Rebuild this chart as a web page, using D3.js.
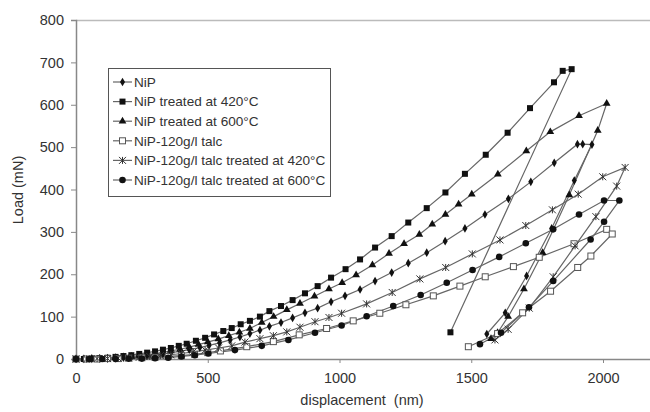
<!DOCTYPE html>
<html><head><meta charset="utf-8">
<script src="https://cdn.jsdelivr.net/npm/d3@7"></script>
<style>body{margin:0;background:#fff}svg{display:block}text{font-family:"Liberation Sans",Arial,sans-serif;fill:#333}</style>
</head><body><svg id="c" width="650" height="412"></svg>
<script>
const seriesNames = ["NiP","NiP treated at 420°C","NiP treated at 600°C","NiP-120g/l talc","NiP-120g/l talc treated at 420°C","NiP-120g/l talc treated at 600°C"];
const xTicks = [0,500,1000,1500,2000];
const yTicks = [0,100,200,300,400,500,600,700,800];

// NiP (diamonds)
const nipX = [0,30,60,90,120,150,180,210,240,270,300,330,360,395,430,470,505,545,585,622,660,698,734,778,822,869,917,968,1021,1078,1135,1198,1261,1331,1401,1476,1552,1641,1726,1815,1903,1923,1958,1891,1805,1710,1629,1559];
const nipY = [0,0,0,1,1,2,3,4,6,8,10,12,15,18,22,27,32,38,45,52,60,68,77,86,97,109,120,135,149,164,184,204,226,251,278,308,341,378,418,463,507,507,506,421,308,196,109,59];
// NiP 420°C (filled squares)
const n420X = [0,30,60,90,120,150,180,210,240,270,300,330,360,390,420,455,490,524,559,591,625,660,698,734,778,822,869,917,968,1023,1078,1135,1198,1261,1331,1402,1476,1555,1638,1723,1814,1847,1881,1421];
const n420Y = [0,0,1,2,3,5,7,9,12,15,18,22,26,31,36,43,50,58,66,73,82,90,100,113,125,139,155,172,192,212,235,263,290,322,356,393,437,482,534,592,653,680,684,63];
// NiP 600°C (triangles)
const n600X = [0,30,60,90,120,150,180,210,240,270,300,330,360,395,430,465,500,540,580,620,660,705,750,800,850,905,960,1010,1063,1125,1188,1245,1303,1352,1402,1452,1502,1601,1709,1800,1909,2014,1980,1872,1771,1700,1640,1600,1575];
const n600Y = [0,0,1,1,2,3,5,6,8,10,13,16,19,23,28,34,40,47,55,63,72,86,100,116,131,148,165,180,198,222,249,272,294,318,341,365,389,436,491,536,574,603,539,387,251,165,100,62,48];
// NiP-120g/l talc (open squares)
const talcX = [0,40,80,120,160,200,250,300,350,400,450,500,548,648,749,847,951,1052,1153,1252,1356,1457,1553,1660,1758,1890,2014,2035,1954,1904,1801,1695,1600,1489];
const talcY = [0,0,0,1,1,2,3,4,6,8,11,15,19,29,41,57,72,90,108,128,149,172,194,218,240,272,306,295,243,216,160,109,60,29];
// NiP-120g/l talc 420°C (stars)
const t420X = [0,40,80,120,160,200,240,280,320,360,400,445,490,541,591,641,698,749,800,850,907,960,1008,1103,1200,1305,1403,1504,1609,1707,1808,1906,1999,2084,2052,1973,1894,1811,1720,1640,1590];
const t420Y = [0,0,1,1,2,3,4,6,8,10,13,17,21,26,31,40,48,55,64,75,88,98,108,130,157,189,216,248,281,315,352,389,430,452,408,336,267,194,120,70,45];
// NiP-120g/l talc 600°C (circles)
const t600X = [0,50,100,150,200,250,300,350,400,451,502,603,705,806,907,1008,1103,1204,1308,1407,1505,1606,1707,1811,1909,2004,2062,2004,1953,1811,1719,1613,1533];
const t600Y = [0,0,0,0,1,1,2,3,6,9,13,21,31,45,62,79,101,125,151,180,210,241,273,306,341,374,374,324,282,184,122,62,35];

const series = [
  {name:seriesNames[0], xs:nipX, ys:nipY, sym:"diamond"},
  {name:seriesNames[1], xs:n420X, ys:n420Y, sym:"square"},
  {name:seriesNames[2], xs:n600X, ys:n600Y, sym:"triangle"},
  {name:seriesNames[3], xs:talcX, ys:talcY, sym:"open"},
  {name:seriesNames[4], xs:t420X, ys:t420Y, sym:"star"},
  {name:seriesNames[5], xs:t600X, ys:t600Y, sym:"circle"}
];

const svg = d3.select("#c");
const x = d3.scaleLinear().domain([0,2200]).range([76,655.7]);
const y = d3.scaleLinear().domain([0,800]).range([359,20]);
const FONT = "Liberation Sans, Arial, sans-serif";

// top border line
svg.append("line").attr("x1",76).attr("x2",650).attr("y1",20.5).attr("y2",20.5).attr("stroke","#bbb").attr("stroke-width",1.5);

const yAxis = svg.append("g").attr("transform","translate(76,0)").call(d3.axisLeft(y).tickValues(yTicks).tickFormat(d3.format("d")).tickSize(5).tickPadding(7));
const xAxis = svg.append("g").attr("transform","translate(0,359)").call(d3.axisBottom(x).tickValues(xTicks).tickFormat(d3.format("d")).tickSize(4).tickPadding(10));
[yAxis,xAxis].forEach(a=>{a.select(".domain").attr("stroke","#888").attr("stroke-width",1.5);a.selectAll(".tick line").attr("stroke","#888");a.selectAll("text").attr("font-size",14.5).attr("fill","#333").style("font-family",FONT);});

svg.append("text").attr("x",362).attr("y",405).attr("text-anchor","middle").attr("font-size",14.5).attr("xml:space","preserve").style("white-space","pre").text("displacement  (nm)");
svg.append("text").attr("transform","translate(23,190) rotate(-90)").attr("text-anchor","middle").attr("font-size",14.5).text("Load (mN)");

function drawMarker(g, sym, cx, cy){
  if(sym==="diamond") g.append("path").attr("d",d3.symbol(d3.symbolDiamond,22)()).attr("transform",`translate(${cx},${cy})`).attr("fill","#111");
  else if(sym==="square") g.append("rect").attr("x",cx-3).attr("y",cy-3).attr("width",6).attr("height",6).attr("fill","#111");
  else if(sym==="triangle") g.append("path").attr("d",d3.symbol(d3.symbolTriangle,26)()).attr("transform",`translate(${cx},${cy})`).attr("fill","#111");
  else if(sym==="open") g.append("rect").attr("x",cx-3).attr("y",cy-3).attr("width",6).attr("height",6).attr("fill","#fff").attr("stroke","#555").attr("stroke-width",1);
  else if(sym==="star") g.append("path").attr("d",`M${cx-3.5},${cy-3.5}L${cx+3.5},${cy+3.5}M${cx-3.5},${cy+3.5}L${cx+3.5},${cy-3.5}M${cx},${cy-3.5}L${cx},${cy+3.5}`).attr("stroke","#333").attr("stroke-width",1);
  else if(sym==="circle") g.append("circle").attr("cx",cx).attr("cy",cy).attr("r",3.3).attr("fill","#111");
}

const line = d3.line().x(d=>x(d[0])).y(d=>y(d[1]));
const plot = svg.append("g");
series.forEach(s=>{
  const pts = s.xs.map((v,i)=>[v,s.ys[i]]);
  plot.append("path").attr("d",line(pts)).attr("fill","none").attr("stroke","#666").attr("stroke-width",1.2);
});
series.forEach(s=>{
  const g = plot.append("g");
  s.xs.forEach((v,i)=>drawMarker(g,s.sym,x(v),y(s.ys[i])));
});

// legend
const lg = svg.append("g");
lg.append("rect").attr("x",108.5).attr("y",68.5).attr("width",222).attr("height",128).attr("fill","#fff").attr("stroke","#555").attr("stroke-width",1);
series.forEach((s,i)=>{
  const cy = 82 + i*19.6;
  lg.append("line").attr("x1",113).attr("x2",132).attr("y1",cy).attr("y2",cy).attr("stroke","#666").attr("stroke-width",1.2);
  const g = lg.append("g");
  drawMarker(g,s.sym,122.5,cy);
  lg.append("text").attr("x",134).attr("y",cy+4.8).attr("font-size",13.6).text(s.name);
});
</script></body></html>
